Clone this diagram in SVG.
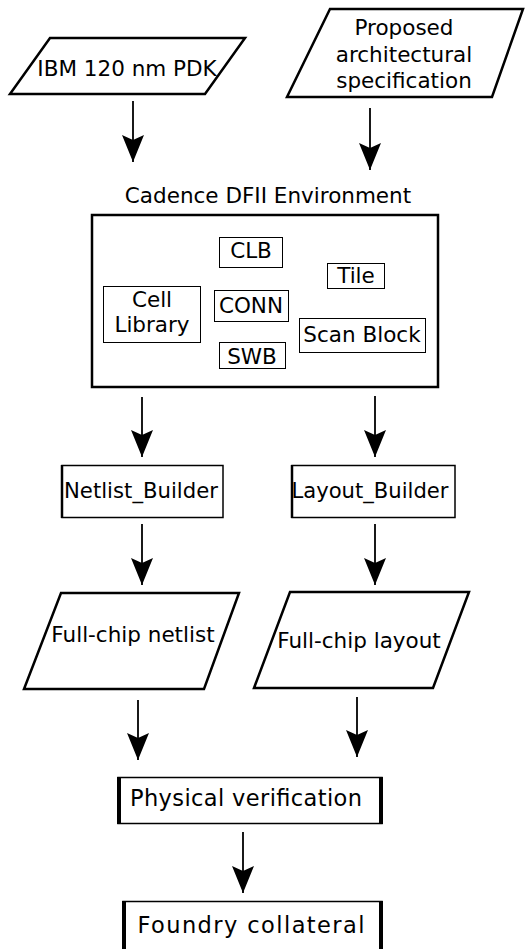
<svg xmlns="http://www.w3.org/2000/svg" width="528" height="949" viewBox="0 0 528 949">
<style>
text{font-family:"DejaVu Sans","Liberation Sans",sans-serif;font-size:21.5px;fill:#000;text-anchor:middle}
.io{fill:#fff;stroke:#000;stroke-width:2.5}
.box{fill:#fff;stroke:#000;stroke-width:1.5}
.sub{fill:#fff;stroke:#000;stroke-width:1}
.thick{stroke:#000;stroke-width:4}
.big{font-size:22.5px}
.conn line{stroke:#000;stroke-width:1.8}
</style>
<defs>
<marker id="ah" markerUnits="userSpaceOnUse" markerWidth="28" markerHeight="22" refX="27" refY="11" orient="auto" viewBox="0 0 28 22">
<path d="M0,0 L5,11 L0,22 L27,11 Z" fill="#000"/>
</marker>
</defs>
<rect width="528" height="949" fill="#fff"/>
<g id="ibm">
<polygon class="io" points="50,38 245,38 205,94 10,94"/>
<text x="127" y="76">IBM 120 nm PDK</text>
</g>
<g id="proposed">
<polygon class="io" points="330,9 523,9 492,97 287,97"/>
<text x="404" y="35">Proposed</text>
<text x="404" y="62">architectural</text>
<text x="404" y="88">specification</text>
</g>
<g id="cadence">
<text x="268" y="203">Cadence DFII Environment</text>
<rect class="io" x="92" y="215" width="346" height="172"/>
</g>
<g id="clb"><rect class="sub" x="219.5" y="237.5" width="63" height="30"/><text x="251" y="258">CLB</text></g>
<g id="tile"><rect class="sub" x="327.5" y="263.5" width="57" height="25"/><text x="356" y="283">Tile</text></g>
<g id="celllib"><rect class="sub" x="103.5" y="286.5" width="97" height="56"/><text x="152" y="307">Cell</text><text x="152" y="332">Library</text></g>
<g id="conn"><rect class="sub" x="214.5" y="290.5" width="74" height="31"/><text x="251" y="313">CONN</text></g>
<g id="scanblock"><rect class="sub" x="299.5" y="318.5" width="126" height="34"/><text x="362" y="342">Scan Block</text></g>
<g id="swb"><rect class="sub" x="219.5" y="342.5" width="66" height="26"/><text x="252" y="364">SWB</text></g>
<g id="netlistbuilder">
<rect class="box" x="62" y="465.5" width="161" height="52"/>
<line class="thick" x1="62" y1="465" x2="62" y2="518" style="stroke-width:2.5"/>
<text x="141" y="498" textLength="154" lengthAdjust="spacingAndGlyphs">Netlist_Builder</text>
</g>
<g id="layoutbuilder">
<rect class="box" x="292" y="465.5" width="163" height="52"/>
<line class="thick" x1="292" y1="465" x2="292" y2="518" style="stroke-width:2.5"/>
<text x="370" y="498" textLength="157" lengthAdjust="spacingAndGlyphs">Layout_Builder</text>
</g>
<g id="fullnetlist">
<polygon class="io" points="61,593 239,593 204,689 24,689"/>
<text x="133" y="642">Full-chip netlist</text>
</g>
<g id="fulllayout">
<polygon class="io" points="290,592 469,592 433,688 254,688"/>
<text x="359" y="648">Full-chip layout</text>
</g>
<g id="physver">
<rect class="box" x="118" y="777.5" width="264" height="46"/>
<line class="thick" x1="119" y1="777" x2="119" y2="824"/>
<line class="thick" x1="381" y1="777" x2="381" y2="824"/>
<text class="big" x="246" y="806" textLength="232" lengthAdjust="spacing">Physical verification</text>
</g>
<g id="foundry">
<rect class="box" x="123" y="901.5" width="259" height="60"/>
<line class="thick" x1="124" y1="901" x2="124" y2="949"/>
<line class="thick" x1="381" y1="901" x2="381" y2="949"/>
<text class="big" x="251" y="933" textLength="227" lengthAdjust="spacing">Foundry collateral</text>
</g>
<g id="connectors" class="conn">
<line x1="133" y1="101" x2="133" y2="162" marker-end="url(#ah)"/>
<line x1="370" y1="108" x2="370" y2="170" marker-end="url(#ah)"/>
<line x1="142" y1="397" x2="142" y2="457" marker-end="url(#ah)"/>
<line x1="375" y1="396" x2="375" y2="457" marker-end="url(#ah)"/>
<line x1="142" y1="524" x2="142" y2="585" marker-end="url(#ah)"/>
<line x1="375" y1="524" x2="375" y2="585" marker-end="url(#ah)"/>
<line x1="138" y1="700" x2="138" y2="760" marker-end="url(#ah)"/>
<line x1="357" y1="697" x2="357" y2="757" marker-end="url(#ah)"/>
<line x1="243" y1="832" x2="243" y2="893" marker-end="url(#ah)"/>
</g>
</svg>
